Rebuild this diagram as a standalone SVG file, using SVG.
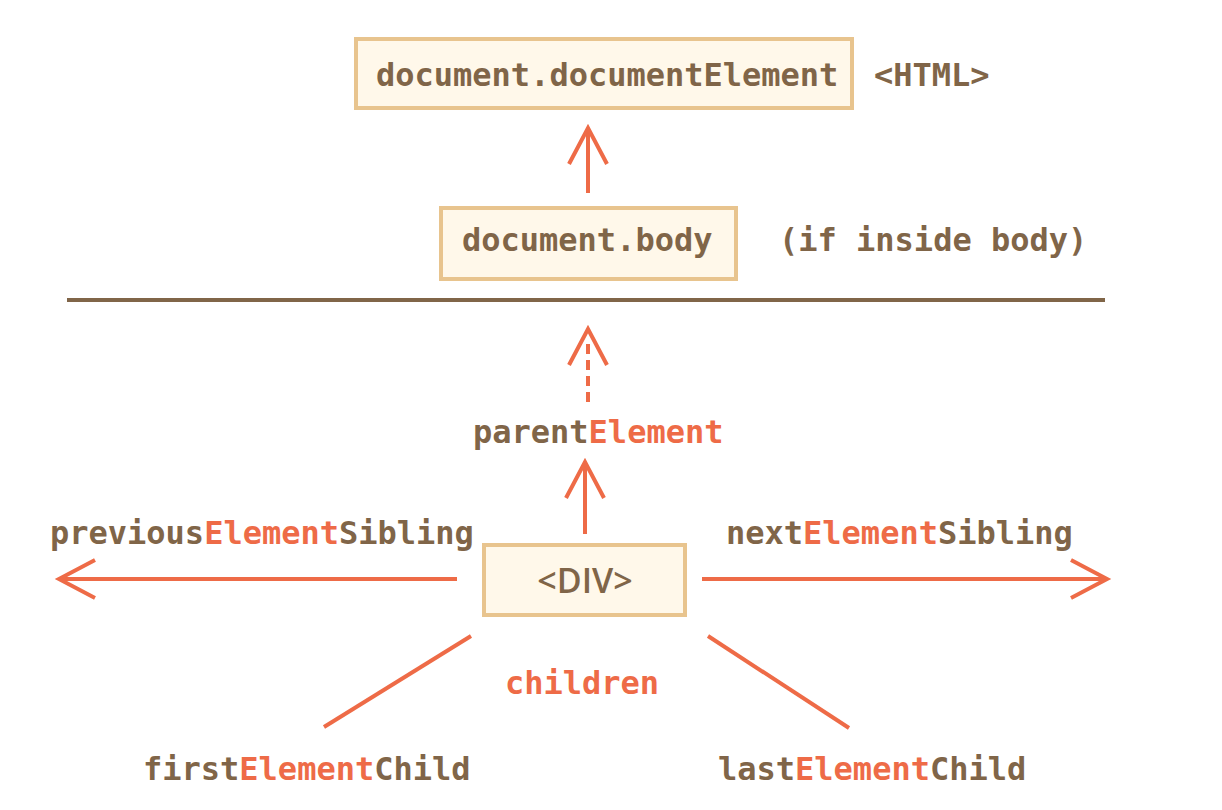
<svg xmlns="http://www.w3.org/2000/svg" width="1222" height="810" viewBox="0 0 1222 810">
<style>
.box{fill:#FFF8EA;stroke:#E8C48E;stroke-width:4}
.mono{font-family:"DejaVu Sans Mono","Liberation Mono",monospace;font-weight:bold;font-size:32px;fill:#806548}
.hl{fill:#EE6B47}
.sans{font-family:"Open Sans","Noto Sans",sans-serif;font-weight:600;font-size:34px;fill:#806548}
.conn{stroke:#EE6B47;stroke-width:4;fill:none}
.rule{stroke:#806548;stroke-width:4}
</style>
<defs>
<marker id="head" markerUnits="userSpaceOnUse" orient="auto" refX="0" refY="0" markerWidth="40" markerHeight="40" overflow="visible">
<path d="M-36,-19 L0,0 L-36,19" fill="none" stroke="#EE6B47" stroke-width="4"/>
</marker>
</defs>
<rect width="1222" height="810" fill="#ffffff"/>
<g id="connectors">
<path class="conn" d="M588,193 V128" marker-end="url(#head)"/>
<path class="conn" d="M588,402 V329" stroke-dasharray="10 6 10 6 10 6 10 15" marker-end="url(#head)"/>
<path class="conn" d="M585,534 V462" marker-end="url(#head)"/>
<path class="conn" d="M457,579 H59" marker-end="url(#head)"/>
<path class="conn" d="M702,579 H1107" marker-end="url(#head)"/>
<path class="conn" d="M471,636 L324,727"/>
<path class="conn" d="M708,636 L849,728"/>
</g>
<line class="rule" x1="67" y1="300" x2="1105" y2="300"/>
<g id="node-documentElement">
<rect class="box" x="356" y="39" width="496" height="69"/>
<text class="mono" x="376" y="86">document.documentElement</text>
<text class="mono" x="874" y="86">&lt;HTML&gt;</text>
</g>
<g id="node-body">
<rect class="box" x="441" y="208" width="295" height="71"/>
<text class="mono" x="462" y="251">document.body</text>
<text class="mono" x="779" y="251">(if inside body)</text>
</g>
<g id="node-div">
<rect class="box" x="484" y="545" width="201" height="70"/>
<text class="sans" x="585" y="593" text-anchor="middle">&lt;DIV&gt;</text>
</g>
<g id="labels">
<text class="mono" x="473" y="443">parent<tspan class="hl">Element</tspan></text>
<text class="mono" x="50" y="544">previous<tspan class="hl">Element</tspan>Sibling</text>
<text class="mono" x="726" y="544">next<tspan class="hl">Element</tspan>Sibling</text>
<text class="mono hl" x="505" y="694">children</text>
<text class="mono" x="143" y="780">first<tspan class="hl">Element</tspan>Child</text>
<text class="mono" x="718" y="780">last<tspan class="hl">Element</tspan>Child</text>
</g>
</svg>
